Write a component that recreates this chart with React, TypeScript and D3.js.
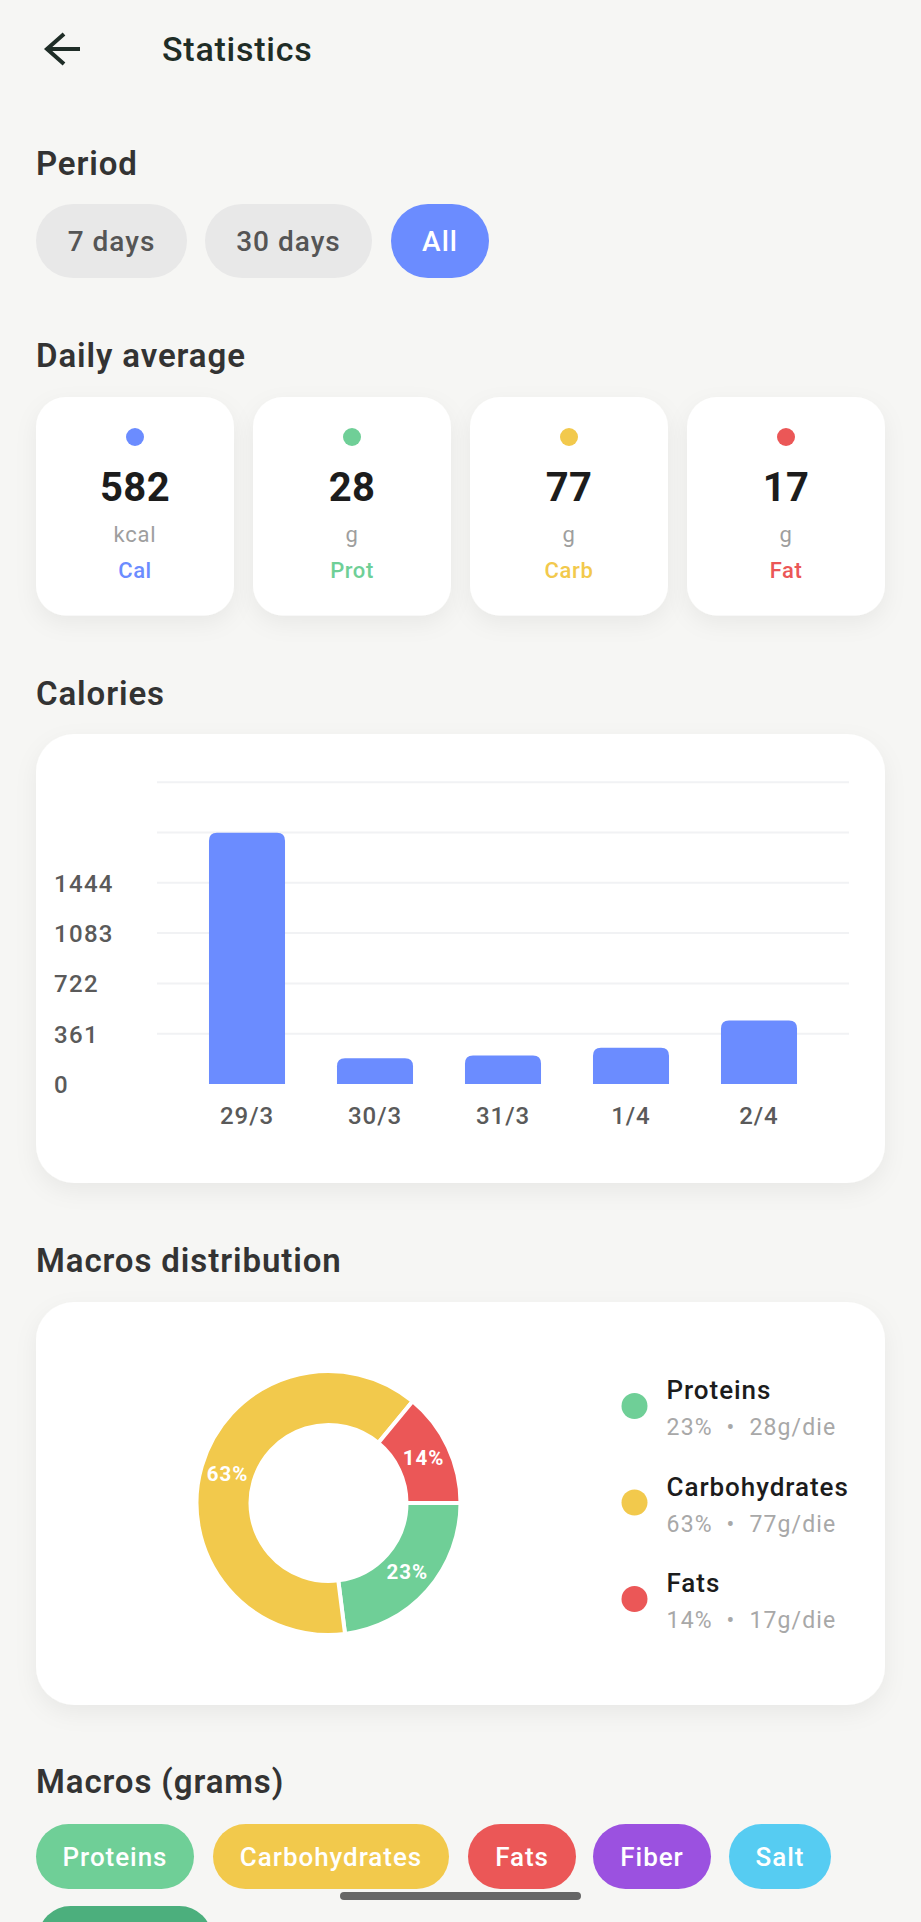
import * as d3 from 'd3';

const days = ['29/3', '30/3', '31/3', '1/4', '2/4'];
const calories = [1803, 184, 205, 261, 456];
const yTicks = [0, 361, 722, 1083, 1444, 1805, 2166];
const yLabels = ['0', '361', '722', '1083', '1444'];

const periods = ['7 days', '30 days', 'All'];
const periodX = [36, 205, 391];
const periodW = [151, 167, 98];

const statValues = ['582', '28', '77', '17'];
const statUnits = ['kcal', 'g', 'g', 'g'];
const statNames = ['Cal', 'Prot', 'Carb', 'Fat'];
const statColors = ['#6b8cff', '#6fcf97', '#f2c94c', '#eb5757'];

const macroNames = ['Proteins', 'Carbohydrates', 'Fats'];
const macroPct = [23, 63, 14];
const macroGrams = [28, 77, 17];
const macroColors = ['#6fcf97', '#f2c94c', '#eb5757'];

const chipNames = ['Proteins', 'Carbohydrates', 'Fats', 'Fiber', 'Salt'];
const chipColors = ['#6fcf97', '#f2c94c', '#eb5757', '#9b51e0', '#56ccf2'];
const chipX = [36, 213, 468, 593, 729];
const chipW = [158, 236, 108, 118, 102];

const font = 'Roboto, sans-serif';

function Card({ x, y, w, h, r }: { x: number; y: number; w: number; h: number; r: number }) {
  return <rect x={x} y={y} width={w} height={h} rx={r} fill="#fff" filter="url(#card-shadow)" />;
}

function Title({ y, children }: { y: number; children: string }) {
  return (
    <text x={36} y={y} fontSize={33} fontWeight={600} letterSpacing={0.9} fill="#333">
      {children}
    </text>
  );
}

export default function App() {
  const x = d3.scaleBand<string>().domain(days).range([183, 823]).paddingInner(0.406).paddingOuter(0.203);
  const y = d3.scaleLinear().domain([0, 361]).range([1084, 1033.7]);

  const pie = d3.pie<number>().sort(null).startAngle(Math.PI / 2).endAngle(Math.PI * 2.5);
  const arc = d3.arc<d3.PieArcDatum<number>>().innerRadius(78).outerRadius(132);
  const slices = pie(macroPct);

  return (
    <svg
      width={921}
      height={1922}
      viewBox="0 0 921 1922"
      style={{ position: 'absolute', left: 0, top: 0, display: 'block', background: '#f6f6f4' }}
      fontFamily={font}
    >
      <defs>
        <filter id="card-shadow" x="-15%" y="-15%" width="130%" height="140%">
          <feDropShadow dx="0" dy="8" stdDeviation="11" floodColor="#000" floodOpacity="0.055" />
        </filter>
      </defs>

      {/* header */}
      <path d="M80 49H49M64 34L47 49L64 64" fill="none" stroke="#1f2d27" strokeWidth={4} />
      <text x={162} y={61} fontSize={34} fontWeight={500} letterSpacing={0.75} fill="#1f2d27">
        Statistics
      </text>

      <Title y={175}>Period</Title>
      {periods.map((p, i) => (
        <g key={p}>
          <rect
            x={periodX[i]}
            y={204}
            width={periodW[i]}
            height={74}
            rx={37}
            fill={p === 'All' ? '#6b8cff' : '#e8e8e8'}
          />
          <text
            x={periodX[i] + periodW[i] / 2}
            y={251}
            textAnchor="middle"
            fontSize={28}
            fontWeight={500}
            letterSpacing={1}
            fill={p === 'All' ? '#fff' : '#555'}
          >
            {p}
          </text>
        </g>
      ))}

      <Title y={367}>Daily average</Title>
      {statValues.map((v, i) => {
        const cx = 135 + i * 217;
        return (
          <g key={statNames[i]} textAnchor="middle">
            <Card x={cx - 99} y={397} w={198} h={218.5} r={30} />
            <circle cx={cx} cy={437} r={9} fill={statColors[i]} />
            <text x={cx} y={501} fontSize={40} fontWeight={700} letterSpacing={0.4} fill="#1c1c1c">
              {v}
            </text>
            <text x={cx} y={542} fontSize={22} letterSpacing={0.8} fill="#9e9e9e">
              {statUnits[i]}
            </text>
            <text x={cx} y={578} fontSize={22} fontWeight={500} letterSpacing={0.6} fill={statColors[i]}>
              {statNames[i]}
            </text>
          </g>
        );
      })}

      <Title y={705}>Calories</Title>
      <Card x={36} y={734} w={849} h={449} r={38} />
      {yTicks.map((t) => (
        <line key={t} x1={157} x2={849} y1={y(t)} y2={y(t)} stroke="#f1f2f4" strokeWidth={2} />
      )).slice(1)}
      {days.map((d, i) => (
        <path
          key={d}
          d={`M${x(d)!},${y(0)}V${y(calories[i]) + 8}q0,-8 8,-8H${x(d)! + x.bandwidth() - 8}q8,0 8,8V${y(0)}Z`}
          fill="#6b8cff"
        />
      ))}
      {yLabels.map((l, i) => (
        <text key={l} x={54} y={y(yTicks[i]) + 9} fontSize={24} fontWeight={500} letterSpacing={1.3} fill="#5a5a5a">
          {l}
        </text>
      ))}
      {days.map((d) => (
        <text
          key={d}
          x={x(d)! + x.bandwidth() / 2}
          y={1124}
          textAnchor="middle"
          fontSize={24}
          fontWeight={500}
          letterSpacing={0.9}
          fill="#5a5a5a"
        >
          {d}
        </text>
      ))}

      <Title y={1272}>Macros distribution</Title>
      <Card x={36} y={1302} w={849} h={403} r={38} />
      <g transform="translate(328.5,1503)">
        {slices.map((s, i) => (
          <path key={i} d={arc(s)!} fill={macroColors[i]} stroke="#fff" strokeWidth={4} />
        ))}
        {slices.map((s, i) => {
          const [lx, ly] = arc.centroid(s);
          return (
            <text
              key={i}
              x={lx}
              y={ly + 7}
              textAnchor="middle"
              fontSize={20.5}
              fontWeight={700}
              letterSpacing={1}
              fill="#fff"
            >
              {macroPct[i]}%
            </text>
          );
        })}
      </g>
      {macroNames.map((n, i) => {
        const top = 1399 + i * 96.5;
        return (
          <g key={n}>
            <circle cx={634.5} cy={top + 7} r={13} fill={macroColors[i]} />
            <text x={666.5} y={top} fontSize={26} fontWeight={500} letterSpacing={0.95} fill="#1c1c1c">
              {n}
            </text>
            <text x={666.5} y={top + 36} fontSize={23} letterSpacing={1.2} fill="#a8a8a8">
              {macroPct[i]}%
            </text>
            <text x={730.5} y={top + 36} textAnchor="middle" fontSize={23} fill="#a8a8a8">
              •
            </text>
            <text x={749.5} y={top + 36} fontSize={23} letterSpacing={1.1} fill="#a8a8a8">
              {macroGrams[i]}g/die
            </text>
          </g>
        );
      })}

      <Title y={1793}>Macros (grams)</Title>
      {chipNames.map((c, i) => (
        <g key={c}>
          <rect x={chipX[i]} y={1824} width={chipW[i]} height={65} rx={32.5} fill={chipColors[i]} />
          <text
            x={chipX[i] + chipW[i] / 2}
            y={1866}
            textAnchor="middle"
            fontSize={26}
            fontWeight={500}
            letterSpacing={0.95}
            fill="#fff"
          >
            {c}
          </text>
        </g>
      ))}
      <rect x={38} y={1906} width={174} height={65} rx={32.5} fill="#4caf7d" />

      {/* gesture bar */}
      <rect x={340} y={1892} width={241} height={8} rx={4} fill="#666" />
    </svg>
  );
}
